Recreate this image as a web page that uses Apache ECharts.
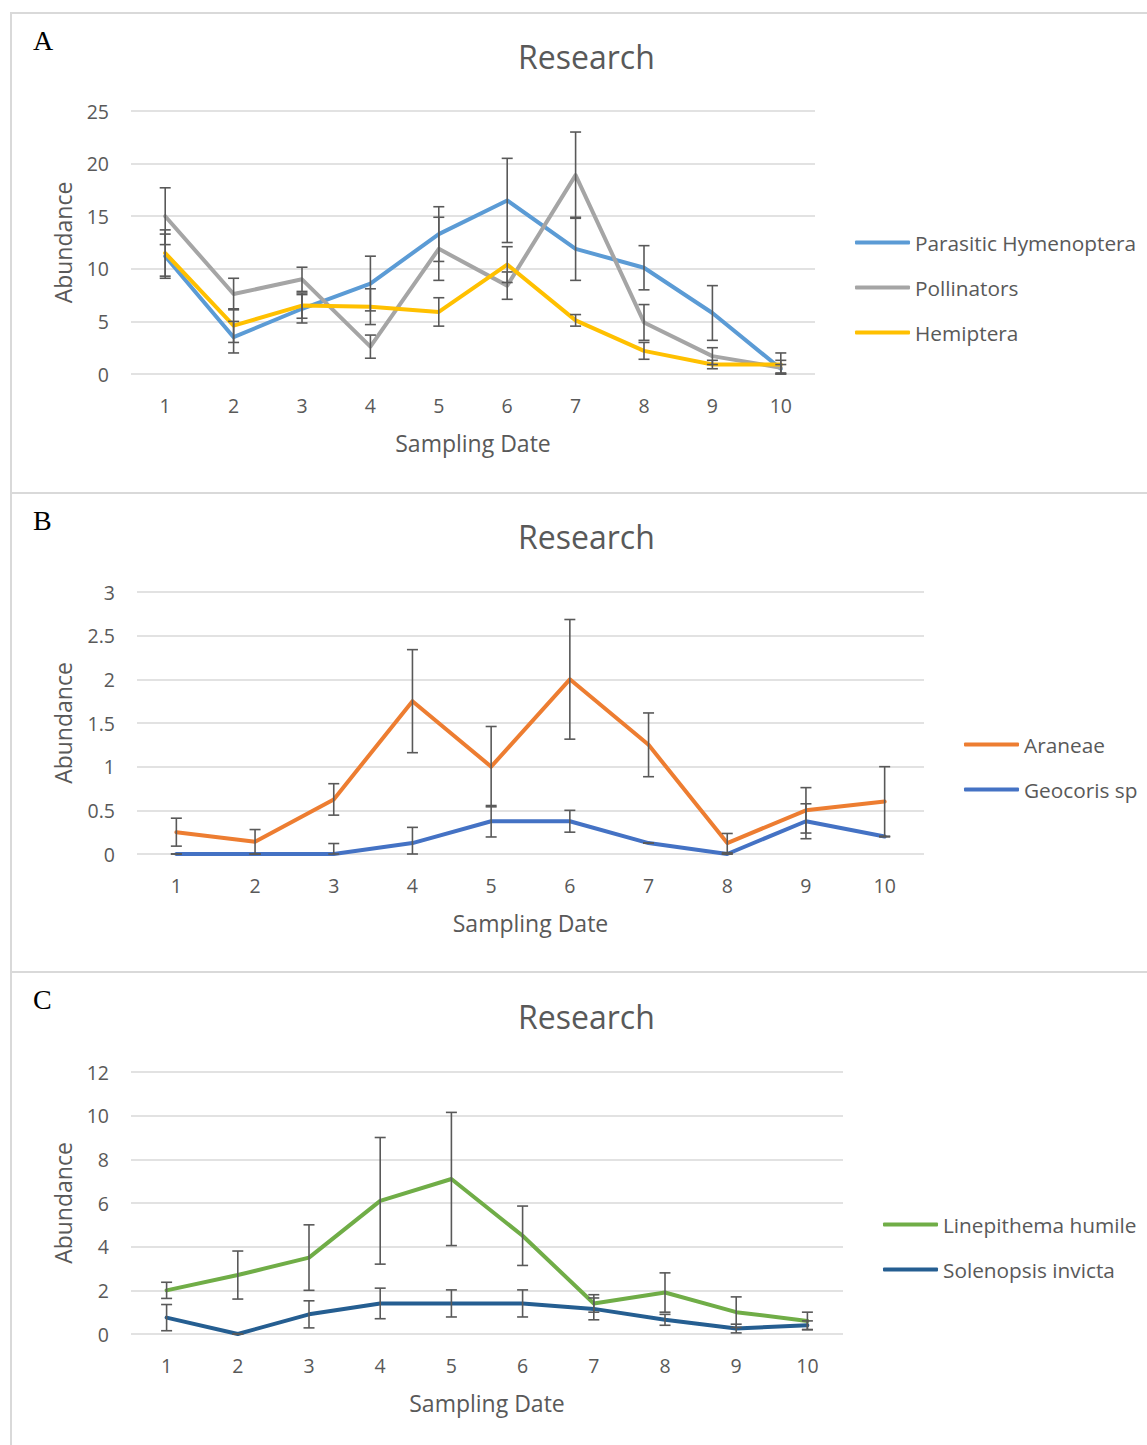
<!DOCTYPE html>
<html>
<head>
<meta charset="utf-8">
<script src="https://cdn.jsdelivr.net/npm/echarts@6/dist/echarts.min.js"></script>
<style>
  html, body { margin: 0; padding: 0; background: #fff; }
  #chart { width: 1147px; height: 1445px; position: absolute; left: 0; top: 0; }
  .b { position: absolute; background: #d9d9d9; }
</style>
</head>
<body>
<div class="b" style="left:10px;top:12px;width:1137px;height:2px"></div>
<div class="b" style="left:10px;top:492px;width:1137px;height:2px"></div>
<div class="b" style="left:10px;top:971px;width:1137px;height:2px"></div>
<div class="b" style="left:10px;top:12px;width:2px;height:1433px"></div>
<div id="chart"></div>
<script>
// ---------- DATA ----------
const dates = ['1','2','3','4','5','6','7','8','9','10'];

// Panel A
const parasiticMean  = [11.2, 3.5, 6.2, 8.6, 13.3, 16.5, 11.9, 10.1, 5.8, 0.5];
const parasiticErr   = [2.1, 1.5, 1.35, 2.6, 2.6, 4.0, 3.0, 2.1, 2.6, 0.4];
const pollinatorMean = [15.0, 7.6, 9.0, 2.6, 11.9, 8.4, 18.9, 4.9, 1.7, 0.6];
const pollinatorErr  = [2.7, 1.5, 1.15, 1.1, 3.0, 1.3, 4.1, 1.7, 0.8, 0.7];
const hemipteraMean  = [11.5, 4.6, 6.5, 6.4, 5.9, 10.4, 5.1, 2.2, 0.9, 0.9];
const hemipteraErr   = [2.2, 1.6, 1.2, 1.7, 1.35, 1.7, 0.55, 0.8, 0.4, 1.1];

// Panel B
const araneaeMean  = [0.25, 0.14, 0.625, 1.75, 1.0, 2.0, 1.25, 0.125, 0.5, 0.6];
const araneaeErr   = [0.16, 0.14, 0.18, 0.59, 0.46, 0.685, 0.365, 0.11, 0.26, 0.4];
const geocorisMean = [0, 0, 0, 0.125, 0.375, 0.375, 0.125, 0, 0.375, 0.2];
const geocorisErr  = [0, 0, 0.12, 0.18, 0.18, 0.125, 0, 0, 0.2, 0];

// Panel C
const linepithemaMean = [2.0, 2.7, 3.5, 6.1, 7.1, 4.5, 1.4, 1.9, 1.0, 0.6];
const linepithemaErr  = [0.37, 1.1, 1.5, 2.9, 3.05, 1.36, 0.4, 0.9, 0.7, 0.4];
const solenopsisMean  = [0.75, 0, 0.9, 1.4, 1.4, 1.4, 1.15, 0.65, 0.25, 0.4];
const solenopsisErr   = [0.6, 0, 0.62, 0.7, 0.62, 0.62, 0.5, 0.25, 0.2, 0.2];

const yTicksA = { min: 0, max: 25, interval: 5 };
const yTicksB = { min: 0, max: 3, interval: 0.5 };
const yTicksC = { min: 0, max: 12, interval: 2 };

// ---------- STYLE ----------
const TXT = '#595959';
const FONT = 'Open Sans';
const GRIDLINE = '#d9d9d9';

const chart = echarts.init(document.getElementById('chart'), null, { renderer: 'svg' });

function errData(mean, err) {
  return mean.map((m, i) => [i, Math.max(0, m - err[i]), m + err[i]]);
}

function errSeries(idx, mean, err) {
  return {
    type: 'custom',
    xAxisIndex: idx, yAxisIndex: idx,
    z: 5,
    silent: true,
    encode: { x: 0, y: [1, 2] },
    data: errData(mean, err),
    renderItem: function (params, api) {
      const x = api.value(0);
      const lo = api.coord([x, api.value(1)]);
      const hi = api.coord([x, api.value(2)]);
      const w = 5.5;
      const st = { stroke: '#595959', lineWidth: 1.6 };
      return {
        type: 'group',
        children: [
          { type: 'line', shape: { x1: hi[0], y1: hi[1], x2: lo[0], y2: lo[1] }, style: st },
          { type: 'line', shape: { x1: hi[0] - w, y1: hi[1], x2: hi[0] + w, y2: hi[1] }, style: st },
          { type: 'line', shape: { x1: lo[0] - w, y1: lo[1], x2: lo[0] + w, y2: lo[1] }, style: st }
        ]
      };
    }
  };
}

function lineSeries(idx, name, data, color) {
  return {
    type: 'line', name: name, data: data,
    xAxisIndex: idx, yAxisIndex: idx,
    symbol: 'none', z: 3,
    lineStyle: { color: color, width: 4, cap: 'round', join: 'round' },
    itemStyle: { color: color }
  };
}

function xAxis(idx, gap) {
  return {
    type: 'category', gridIndex: idx, data: dates, boundaryGap: true,
    axisLine: { show: false }, axisTick: { show: false },
    axisLabel: { color: TXT, fontSize: 19.5, fontFamily: FONT, margin: 21 },
    name: 'Sampling Date', nameLocation: 'middle', nameGap: gap,
    nameTextStyle: { color: TXT, fontSize: 23, fontFamily: FONT }
  };
}

function yAxis(idx, ticks, gap) {
  return {
    type: 'value', gridIndex: idx, min: ticks.min, max: ticks.max, interval: ticks.interval,
    axisLine: { show: false }, axisTick: { show: false },
    axisLabel: { color: TXT, fontSize: 19.5, fontFamily: FONT, margin: 22 },
    splitLine: { lineStyle: { color: GRIDLINE, width: 1.5 } },
    name: 'Abundance', nameLocation: 'middle', nameGap: gap, nameRotate: 90,
    nameTextStyle: { color: TXT, fontSize: 23, fontFamily: FONT }
  };
}

function legend(names, left, top) {
  return {
    data: names, orient: 'vertical', left: left, top: top,
    icon: 'roundRect', itemWidth: 55, itemHeight: 4, itemGap: 24,
    selectedMode: false,
    textStyle: { color: TXT, fontSize: 20.8, fontFamily: FONT, lineHeight: 20 }
  };
}

function title(text, left, top, serif) {
  return serif
    ? { text: text, left: left, top: top, textStyle: { fontFamily: 'Liberation Serif', fontSize: 28, fontWeight: 'normal', color: '#000' } }
    : { text: text, left: left, top: top, textStyle: { fontFamily: FONT, fontSize: 32, fontWeight: 'normal', color: TXT } };
}

const option = {
  animation: false,
  title: [
    title('A', 28, 21, true), title('Research', 513, 35, false),
    title('B', 28, 501, true), title('Research', 513, 515, false),
    title('C', 28, 980, true), title('Research', 513, 995, false)
  ],
  legend: [
    legend(['Parasitic Hymenoptera', 'Pollinators', 'Hemiptera'], 850, 227),
    legend(['Araneae', 'Geocoris sp'], 959, 729),
    legend(['Linepithema humile', 'Solenopsis invicta'], 878, 1209)
  ],
  grid: [
    { left: 131, top: 111, width: 684, height: 263 },
    { left: 137, top: 592, width: 787, height: 262 },
    { left: 131, top: 1072, width: 712, height: 262 }
  ],
  xAxis: [xAxis(0, 57), xAxis(1, 57), xAxis(2, 57)],
  yAxis: [yAxis(0, yTicksA, 57), yAxis(1, yTicksB, 63), yAxis(2, yTicksC, 57)],
  series: [
    lineSeries(0, 'Parasitic Hymenoptera', parasiticMean, '#5B9BD5'),
    lineSeries(0, 'Pollinators', pollinatorMean, '#A5A5A5'),
    lineSeries(0, 'Hemiptera', hemipteraMean, '#FFC000'),
    errSeries(0, parasiticMean, parasiticErr),
    errSeries(0, pollinatorMean, pollinatorErr),
    errSeries(0, hemipteraMean, hemipteraErr),

    lineSeries(1, 'Araneae', araneaeMean, '#ED7D31'),
    lineSeries(1, 'Geocoris sp', geocorisMean, '#4472C4'),
    errSeries(1, araneaeMean, araneaeErr),
    errSeries(1, geocorisMean, geocorisErr),

    lineSeries(2, 'Linepithema humile', linepithemaMean, '#70AD47'),
    lineSeries(2, 'Solenopsis invicta', solenopsisMean, '#255E91'),
    errSeries(2, linepithemaMean, linepithemaErr),
    errSeries(2, solenopsisMean, solenopsisErr)
  ]
};
chart.setOption(option);
</script>
</body>
</html>
